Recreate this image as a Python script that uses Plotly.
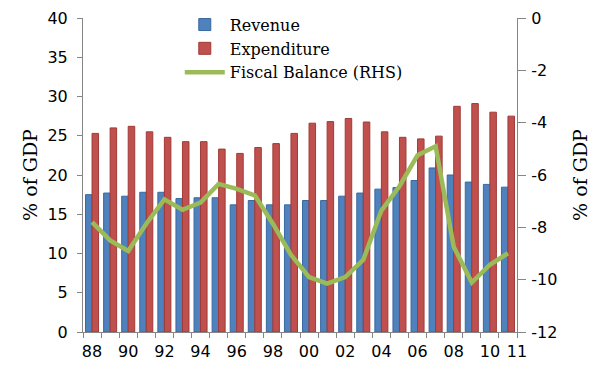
import plotly.graph_objects as go

years = ["88", "89", "90", "91", "92", "93", "94", "95", "96", "97", "98", "99",
         "00", "01", "02", "03", "04", "05", "06", "07", "08", "09", "10", "11"]
revenue = [17.5, 17.7, 17.3, 17.8, 17.8, 17.0, 17.1, 17.1, 16.2, 16.75, 16.2, 16.2,
           16.75, 16.75, 17.3, 17.7, 18.2, 18.4, 19.3, 20.9, 20.0, 19.1, 18.8, 18.45]
expenditure = [25.3, 26.0, 26.2, 25.5, 24.8, 24.25, 24.25, 23.3, 22.75, 23.5, 24.0, 25.3,
               26.6, 26.8, 27.2, 26.75, 25.5, 24.8, 24.6, 24.95, 28.75, 29.1, 28.0, 27.5]
fiscal_balance = [-7.8, -8.5, -8.9, -7.86, -6.93, -7.33, -7.05, -6.34, -6.53, -6.78, -7.86, -9.05,
                  -9.9, -10.15, -9.9, -9.24, -7.36, -6.43, -5.24, -4.9, -8.74, -10.11, -9.43, -8.99]

tick_labels = ["88", "90", "92", "94", "96", "98", "00", "02", "04", "06", "08", "10", "11"]
rhs_ticks = [0, -2, -4, -6, -8, -10, -12]
rhs_labels = ["0", "-2", "-4", "-6", "-8", "-10", "-12"]

idx = list(range(len(years)))
tick_pos = [years.index(t) for t in tick_labels[:-1]] + [len(years) - 0.5]

fig = go.Figure()
fig.add_trace(go.Bar(x=idx, y=revenue, name="Revenue",
                     marker=dict(color="#4F81BD", line=dict(color="#3A68A0", width=1))))
fig.add_trace(go.Bar(x=idx, y=expenditure, name="Expenditure",
                     marker=dict(color="#C0504D", line=dict(color="#A03A37", width=1))))
fig.add_trace(go.Scatter(x=idx, y=fiscal_balance, name="Fiscal Balance (RHS)", yaxis="y2",
                         mode="lines", line=dict(color="#9BBB59", width=4.5)))

axis_col = "#868686"
tick_font = dict(family="DejaVu Sans", size=16, color="#000000")
title_font = dict(family="DejaVu Serif", size=19, color="#000000")

fig.update_layout(
    width=592, height=370,
    margin=dict(l=75, r=83, t=10, b=46, autoexpand=False),
    paper_bgcolor="white", plot_bgcolor="white",
    barmode="group", bargap=0.28, bargroupgap=0,
    showlegend=True,
    legend=dict(x=0.223, y=1.033, xanchor="left", yanchor="top",
                bgcolor="rgba(0,0,0,0)", font=dict(family="DejaVu Serif", size=16, color="#000000"),
                tracegroupgap=0, itemwidth=40),
    xaxis=dict(range=[-0.5, len(years) - 0.5], tickmode="array", tickvals=tick_pos, ticktext=tick_labels,
               ticks="", showgrid=False, zeroline=False, showline=True, linecolor=axis_col, linewidth=1,
               tickfont=tick_font, automargin=False, ticklabelstandoff=5, ticklabeloverflow="allow",
               minor=dict(ticks="outside", ticklen=5, tickcolor=axis_col, tick0=-0.5, dtick=1, showgrid=False)),
    yaxis=dict(range=[0, 40], dtick=5, ticks="outside", ticklen=5, tickcolor=axis_col,
               showgrid=False, zeroline=False, showline=True, linecolor=axis_col, linewidth=1,
               tickfont=tick_font, automargin=False, ticklabelstandoff=6, ticklabeloverflow="allow",
               title=dict(text="% of GDP", font=title_font, standoff=4)),
    yaxis2=dict(range=[-12, 0], tickmode="array", tickvals=rhs_ticks, ticktext=rhs_labels,
                overlaying="y", side="right", ticks="outside", ticklen=8,
                tickcolor=axis_col, showgrid=False, zeroline=False, showline=True, linecolor=axis_col,
                linewidth=1, tickfont=tick_font, automargin=False, ticklabelstandoff=2,
                ticklabeloverflow="allow",
                title=dict(text="% of GDP", font=title_font, standoff=17)),
)

fig.write_html("out.html")
